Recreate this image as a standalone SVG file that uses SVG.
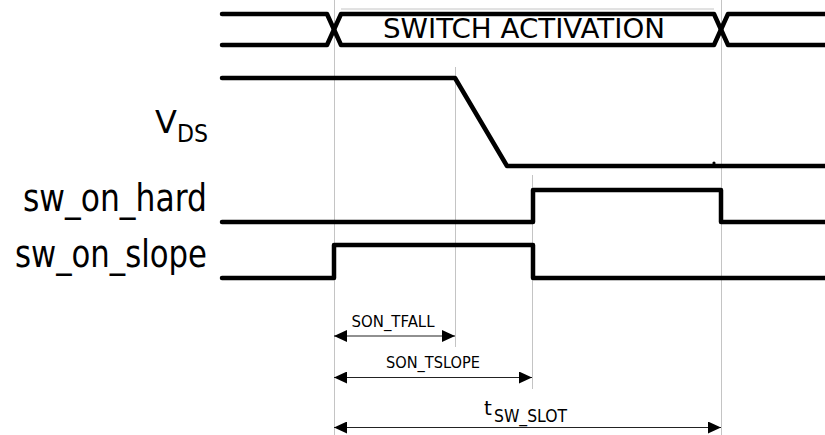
<svg xmlns="http://www.w3.org/2000/svg" width="825" height="435" viewBox="0 0 825 435">
<style>
.sig{fill:none;stroke:#000;stroke-width:4.5;stroke-linejoin:round;stroke-linecap:round}
.grid{stroke:#c4c4c4;stroke-width:1;fill:none}
.dim{stroke:#222;stroke-width:1.2;fill:none}
.t{font-family:"DejaVu Sans","Liberation Sans",sans-serif;fill:#000}
</style>
<defs>
<marker id="ah" markerWidth="13" markerHeight="12" refX="13" refY="6" orient="auto-start-reverse" markerUnits="userSpaceOnUse">
<path d="M0,0 L13,6 L0,12 Z" fill="#000"/>
</marker>
</defs>
<rect width="825" height="435" fill="#fff"/>
<g id="gridlines">
<line class="grid" x1="334.5" y1="0" x2="334.5" y2="435"/>
<line class="grid" x1="721.5" y1="0" x2="721.5" y2="435"/>
<line class="grid" x1="455.5" y1="67" x2="455.5" y2="347"/>
<line class="grid" x1="532.5" y1="175" x2="532.5" y2="389"/>
<line class="grid" x1="341" y1="9" x2="714" y2="9"/>
</g>
<g id="bus">
<path class="sig" stroke-width="4" d="M222,14 H327 L341,45 H714 L728,14 H825"/>
<path class="sig" stroke-width="4" d="M222,45 H327 L341,14 H714 L728,45 H825"/>
<text class="t" x="524" y="38" font-size="27" text-anchor="middle" textLength="282" lengthAdjust="spacingAndGlyphs">SWITCH ACTIVATION</text>
</g>
<g id="vds">
<path class="sig" d="M222,78 H455 L507,166 H825"/>
<circle cx="714" cy="163" r="1.6" fill="#000"/>
<text class="t" x="155" y="133" font-size="32">V</text>
<text class="t" x="177" y="142" font-size="25" textLength="31" lengthAdjust="spacingAndGlyphs">DS</text>
</g>
<g id="sw_on_hard">
<path class="sig" d="M222,222 H533 V190 H721 V222 H825"/>
<text class="t" x="23" y="211" font-size="37" textLength="184" lengthAdjust="spacingAndGlyphs">sw_on_hard</text>
</g>
<g id="sw_on_slope">
<path class="sig" d="M222,278 H334 V245 H533 V278 H825"/>
<text class="t" x="15" y="267" font-size="37" textLength="192" lengthAdjust="spacingAndGlyphs">sw_on_slope</text>
</g>
<g id="connectors">
<line class="dim" x1="334" y1="336" x2="455" y2="336" marker-start="url(#ah)" marker-end="url(#ah)"/>
<line class="dim" x1="334" y1="377.5" x2="532" y2="377.5" marker-start="url(#ah)" marker-end="url(#ah)"/>
<line class="dim" x1="334" y1="427.5" x2="721" y2="427.5" marker-start="url(#ah)" marker-end="url(#ah)"/>
</g>
<g id="labels">
<text class="t" x="393" y="327" font-size="16" text-anchor="middle" textLength="83" lengthAdjust="spacingAndGlyphs">SON_TFALL</text>
<text class="t" x="433" y="368" font-size="16" text-anchor="middle" textLength="94" lengthAdjust="spacingAndGlyphs">SON_TSLOPE</text>
<text class="t" x="484" y="415" font-size="20">t</text>
<text class="t" x="494" y="422" font-size="18" textLength="73" lengthAdjust="spacingAndGlyphs">SW_SLOT</text>
</g>
</svg>
